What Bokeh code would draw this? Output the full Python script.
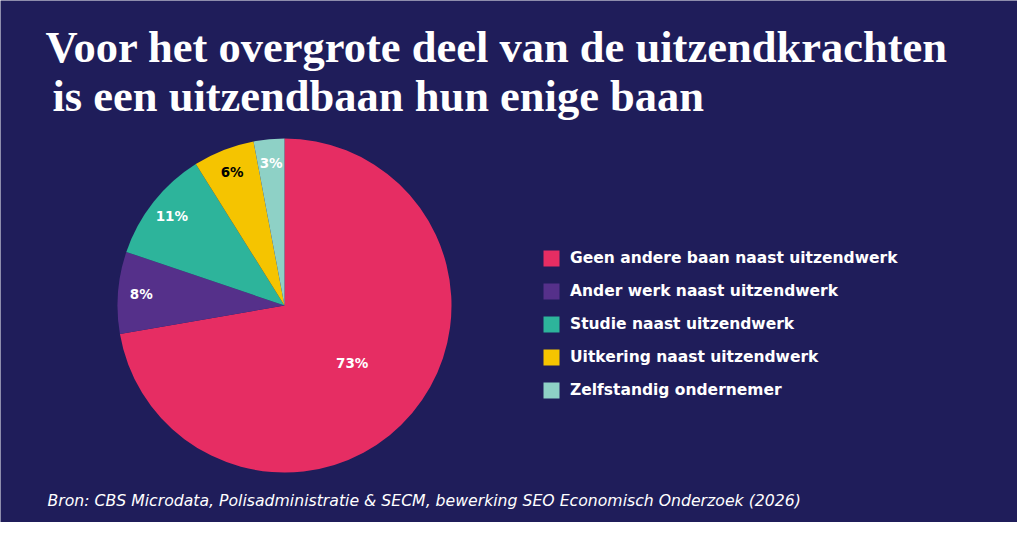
import numpy as np
from bokeh.plotting import figure
from bokeh.models import ColumnDataSource, Legend, LegendItem
from bokeh.core.properties import value
from bokeh.embed import file_html
from bokeh.resources import INLINE

# data
categories = ["Geen andere baan naast uitzendwerk", "Ander werk naast uitzendwerk",
              "Studie naast uitzendwerk", "Uitkering naast uitzendwerk",
              "Zelfstandig ondernemer"]
shares = [73, 8, 11, 6, 3]
colors = ["#E62D63", "#55308A", "#2DB49B", "#F5C400", "#8ED1C6"]
label_colors = ["white", "white", "white", "black", "white"]

title_lines = ["Voor het overgrote deel van de uitzendkrachten",
               "is een uitzendbaan hun enige baan"]
source_note = "Bron: CBS Microdata, Polisadministratie & SECM, bewerking SEO Economisch Onderzoek (2026)"

BG = "#1F1D5A"
W, H = 1017, 522

# data units = screen pixels, y measured upwards from 538
p = figure(width=W, height=H, x_range=(0, W), y_range=(538 - H, 538),
           output_backend="svg", toolbar_location=None, min_border=0,
           background_fill_color=BG, border_fill_color=BG, outline_line_color=None)
p.axis.visible = False
p.grid.visible = False

# pie, clockwise from 12 o'clock
cx, cy, R = 284, 538 - 305, 167
frac = np.array(shares) / sum(shares)
cum = np.concatenate([[0], np.cumsum(frac)])
start = np.pi / 2 - cum[:-1] * 2 * np.pi
end = np.pi / 2 - cum[1:] * 2 * np.pi
mid = (start + end) / 2
lr = np.where(frac > 0.5, 0.53 * R, 0.86 * R)

src = ColumnDataSource(dict(cat=categories, start=start, end=end, color=colors,
                            lx=cx + lr * np.cos(mid), ly=cy + lr * np.sin(mid),
                            lab=[f"{s}%" for s in shares], lcol=label_colors))

pie = p.wedge(x=cx, y=cy, radius=R, start_angle="start", end_angle="end",
              direction="clock", fill_color="color", line_color=None, source=src)
p.text(x="lx", y="ly", text="lab", text_color="lcol", source=src,
       text_align="center", text_baseline="middle", text_font=value("DejaVu Sans"),
       text_font_style="bold", text_font_size="13.5px")

legend = Legend(items=[LegendItem(label=c, renderers=[pie], index=i) for i, c in enumerate(categories)],
                location=(541, 122), orientation="vertical",
                glyph_width=20, glyph_height=20, label_height=20, spacing=13,
                label_standoff=9, padding=0, margin=0,
                background_fill_alpha=0, border_line_color=None,
                label_text_color="white", label_text_font="DejaVu Sans",
                label_text_font_style="bold", label_text_font_size="15.5px")
p.add_layout(legend, "center")

# titles
p.text(x=[45, 52], y=[538 - 46, 538 - 95], text=title_lines, text_color="white",
       text_font=value("Liberation Serif"), text_font_style="bold",
       text_font_size="44.5px", text_baseline="alphabetic")
p.text(x=[47], y=[538 - 500], text=[source_note], text_color="white",
       text_font=value("DejaVu Sans"), text_font_style="italic",
       text_font_size="15.7px", text_baseline="alphabetic")

open("out.html", "w").write(file_html(p, INLINE))
